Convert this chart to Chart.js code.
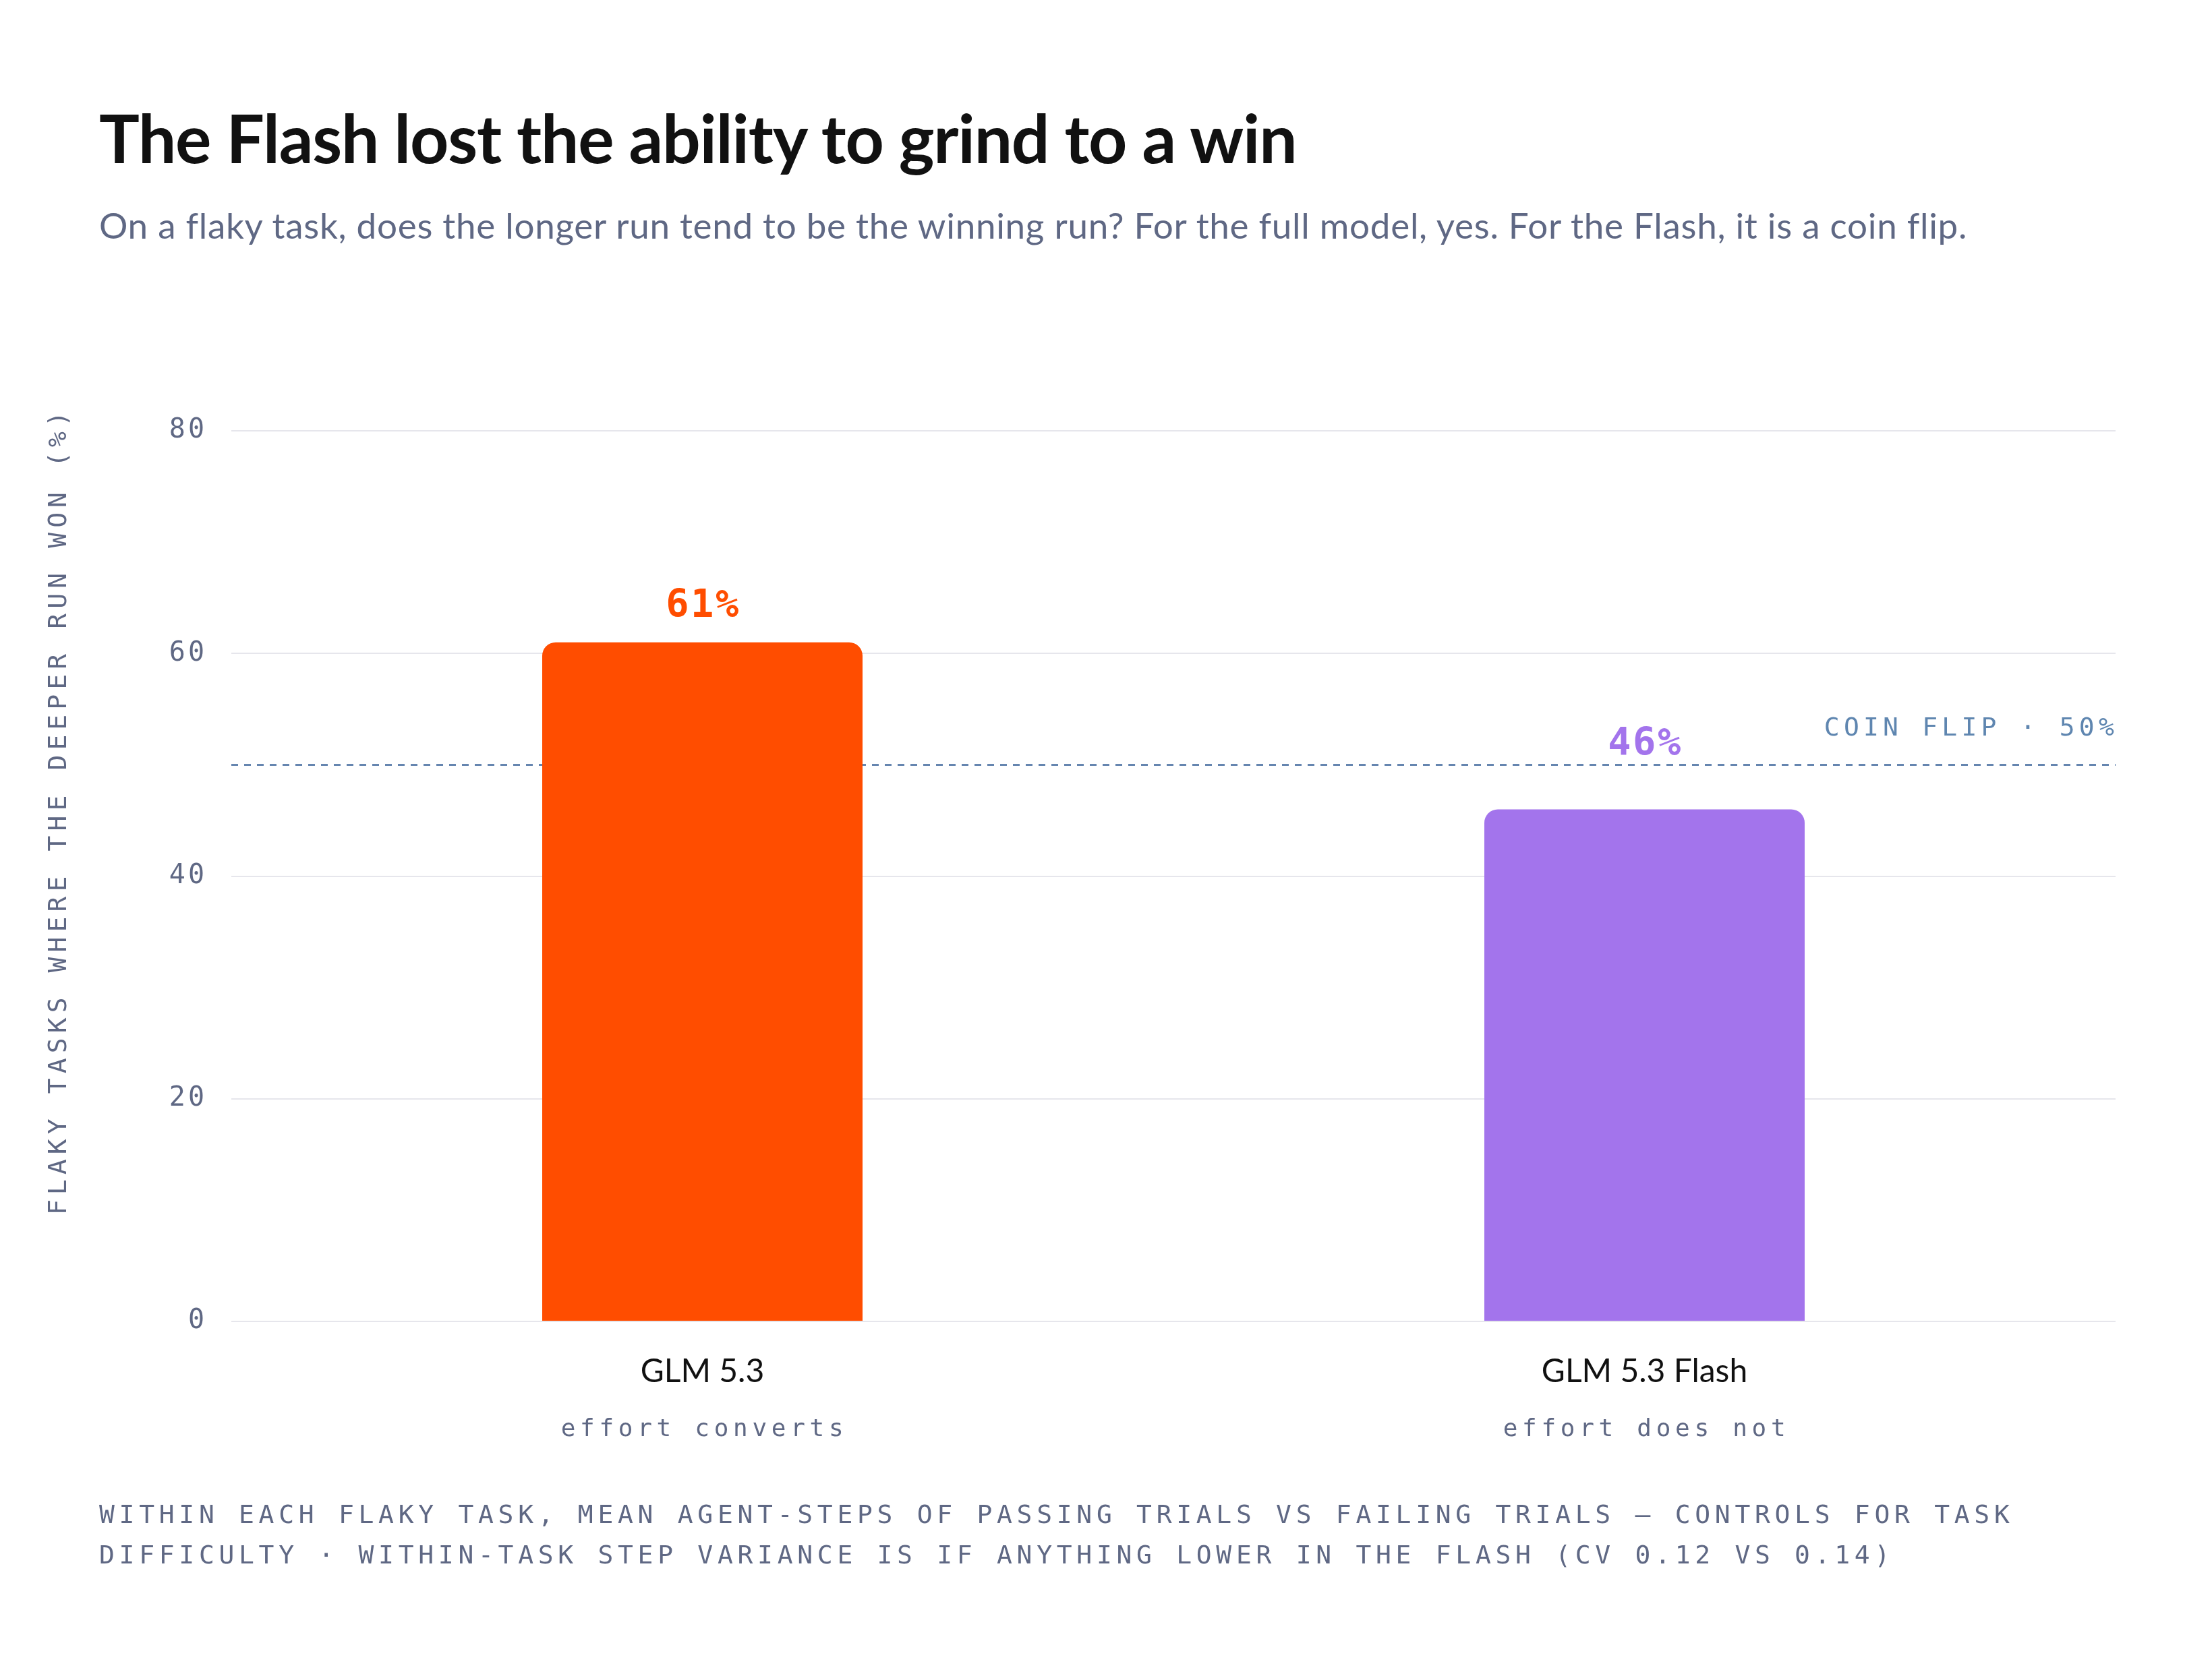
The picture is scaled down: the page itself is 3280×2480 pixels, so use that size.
<!DOCTYPE html>
<html>
<head>
<meta charset="utf-8">
<script src="https://cdn.jsdelivr.net/npm/chart.js@4.4.1/dist/chart.umd.min.js"></script>
<style>
    html, body { margin: 0; padding: 0; background: #ffffff; }
    #page { position: relative; width: 3280px; height: 2480px; overflow: hidden; background: #ffffff; }
    #chart-wrap { position: absolute; left: 0; top: 0; width: 3280px; height: 2480px; }
    .title {
        position: absolute; left: 147px; top: 143px;
        font-family: Lato, "Noto Sans", sans-serif; font-weight: 700;
        font-size: 100px; line-height: 1.2; letter-spacing: -1.2px; color: #111111;
        white-space: nowrap;
    }
    .subtitle {
        position: absolute; left: 147px; top: 302px;
        font-family: Lato, "Noto Sans", sans-serif; font-weight: 400;
        font-size: 53px; line-height: 1.2; letter-spacing: 0.7px; color: #5f6884; white-space: nowrap;
    }
    .footer {
        position: absolute; left: 147px; top: 2216px;
        font-family: "DejaVu Sans Mono", monospace; font-size: 38px;
        line-height: 60px; letter-spacing: 6.7px; color: #5f6884; white-space: nowrap;
    }
</style>
</head>
<body>
<div id="page">
    <div id="chart-wrap"><canvas id="flashChart"></canvas></div>
    <div class="title">The Flash lost the ability to grind to a win</div>
    <div class="subtitle">On a flaky task, does the longer run tend to be the winning run? For the full model, yes. For the Flash, it is a coin flip.</div>
    <div class="footer">WITHIN EACH FLAKY TASK, MEAN AGENT-STEPS OF PASSING TRIALS VS FAILING TRIALS — CONTROLS FOR TASK<br>DIFFICULTY · WITHIN-TASK STEP VARIANCE IS IF ANYTHING LOWER IN THE FLASH (CV 0.12 VS 0.14)</div>
</div>

<script>
// -----------------------------
// Données
// -----------------------------
const models = ["GLM 5.3", "GLM 5.3 Flash"];
const notes = ["effort converts", "effort does not"];
const deeperRunWon = [61, 46];
const barColors = ["#ff4d00", "#a374ec"];
const coinFlip = 50;
const coinFlipLabel = "COIN FLIP · 50%";
const yTicks = [0, 20, 40, 60, 80];
const yTitle = "FLAKY TASKS WHERE THE DEEPER RUN WON (%)";

const GRAY = "#5f6884";
const MONO = '"DejaVu Sans Mono", monospace';


// -----------------------------
// Plugin — ligne pièce, étiquettes
// -----------------------------
const annotations = {
    id: "annotations",

    beforeDraw(chart) {
        // espacement des lettres pour les graduations Y
        const y = chart.scales.y;
        if (!y._spaced) {
            const orig = y.drawLabels;
            y.drawLabels = function (area) {
                const ctx = this.ctx;
                ctx.save();
                ctx.letterSpacing = "4px";
                orig.call(this, area);
                ctx.restore();
            };
            y._spaced = true;
        }
    },

    beforeDatasetsDraw(chart) {
        const { ctx, chartArea, scales } = chart;
        const yLine = scales.y.getPixelForValue(coinFlip);

        ctx.save();
        ctx.strokeStyle = "#6686b0";
        ctx.lineWidth = 3;
        ctx.setLineDash([10, 9]);
        ctx.beginPath();
        ctx.moveTo(chartArea.left, yLine);
        ctx.lineTo(chartArea.right, yLine);
        ctx.stroke();
        ctx.restore();

        ctx.save();
        ctx.font = "38px " + MONO;
        ctx.letterSpacing = "6.2px";
        ctx.fillStyle = "#5f86b0";
        ctx.textAlign = "right";
        ctx.textBaseline = "alphabetic";
        ctx.fillText(coinFlipLabel, chartArea.right + 4, yLine - 43);
        ctx.restore();
    },

    afterDatasetsDraw(chart) {
        const { ctx, chartArea, scales } = chart;
        const meta = chart.getDatasetMeta(0);
        const yLine = scales.y.getPixelForValue(coinFlip);

        // valeurs au-dessus des barres
        ctx.save();
        ctx.font = "bold 57px " + MONO;
        ctx.letterSpacing = "2.5px";
        ctx.textAlign = "center";
        ctx.textBaseline = "alphabetic";
        meta.data.forEach((bar, i) => {
            const base = Math.min(bar.y - 38, yLine - 14);
            ctx.fillStyle = barColors[i];
            ctx.fillText(deeperRunWon[i] + "%", bar.x + 1, base);
        });
        ctx.restore();

        // sous-titres des catégories
        ctx.save();
        ctx.font = "36px " + MONO;
        ctx.letterSpacing = "6.7px";
        ctx.fillStyle = GRAY;
        ctx.textAlign = "center";
        ctx.textBaseline = "alphabetic";
        notes.forEach((note, i) => {
            const x = scales.x.getPixelForValue(i);
            ctx.fillText(note, x + 3, scales.x.top + 170);
        });
        ctx.restore();

        // titre de l'axe Y
        ctx.save();
        ctx.font = "38px " + MONO;
        ctx.letterSpacing = "7.1px";
        ctx.fillStyle = GRAY;
        ctx.textAlign = "right";
        ctx.textBaseline = "middle";
        ctx.translate(88, chartArea.top - 36);
        ctx.rotate(-Math.PI / 2);
        ctx.fillText(yTitle, 0, 0);
        ctx.restore();
    }
};


// -----------------------------
// GRAPHIQUE
// -----------------------------
new Chart(document.getElementById("flashChart"), {
    type: "bar",
    data: {
        labels: models,
        datasets: [{
            data: deeperRunWon,
            backgroundColor: barColors,
            borderRadius: 20,
            borderSkipped: "start",
            barPercentage: 0.34,
            categoryPercentage: 1.0
        }]
    },
    options: {
        responsive: true,
        maintainAspectRatio: false,
        devicePixelRatio: 1,
        animation: false,
        layout: { padding: { left: 0, right: 143, top: 639, bottom: 420 } },
        plugins: { legend: { display: false }, tooltip: { enabled: false } },
        scales: {
            x: {
                grid: { display: false, drawTicks: false },
                border: { display: false },
                ticks: {
                    color: "#111111",
                    padding: 46,
                    font: { family: "Lato", size: 48 }
                },
                afterFit(scale) { scale.height = 100; }
            },
            y: {
                min: 0,
                max: 80,
                afterBuildTicks(scale) { scale.ticks = yTicks.map(v => ({ value: v })); },
                grid: { color: "#e6e6ec", lineWidth: 2, drawTicks: false },
                border: { display: false },
                ticks: {
                    color: GRAY,
                    padding: 36,
                    font: { family: "DejaVu Sans Mono", size: 40 }
                },
                afterFit(scale) { scale.width = 343; }
            }
        }
    },
    plugins: [annotations]
});
</script>
</body>
</html>
